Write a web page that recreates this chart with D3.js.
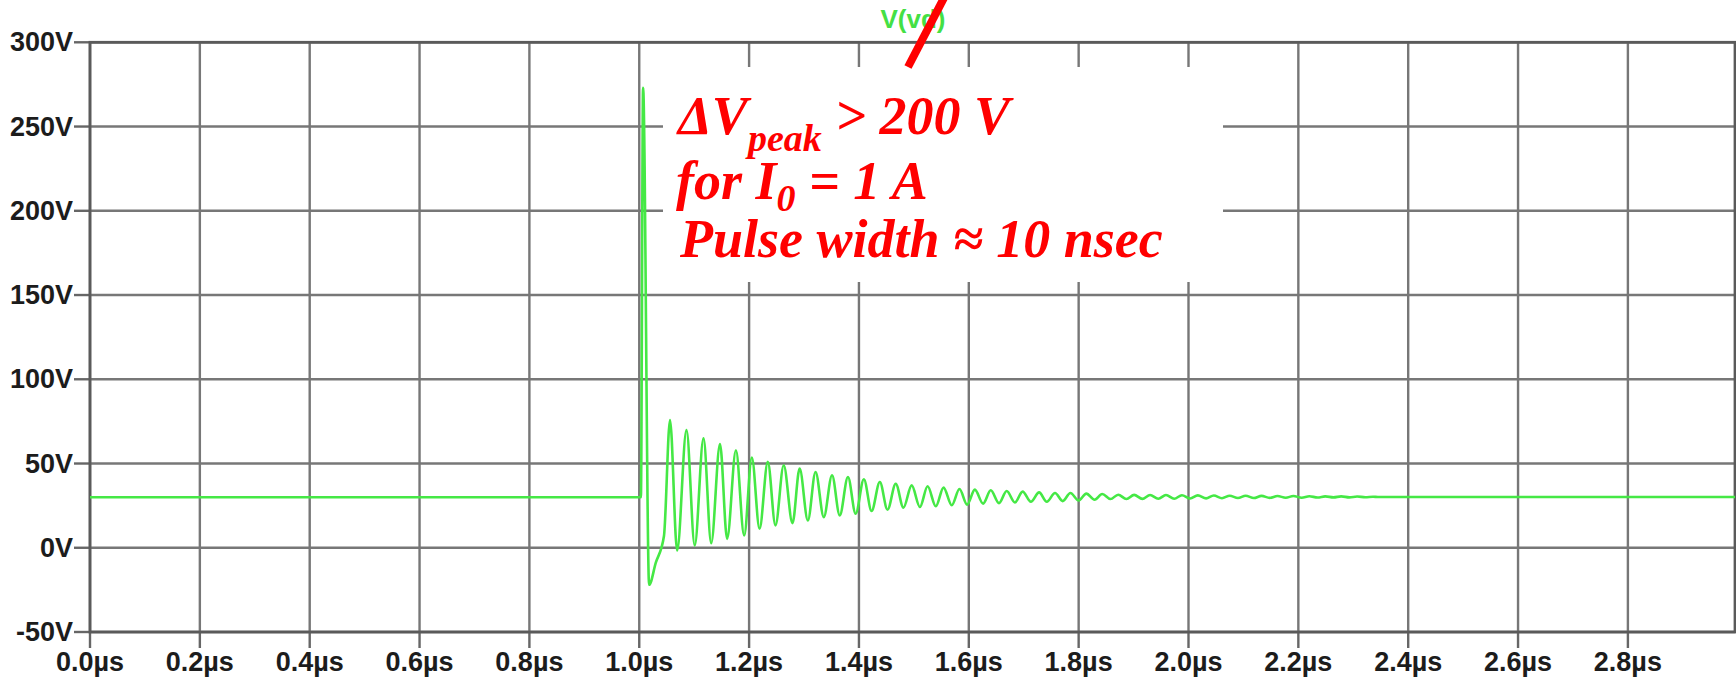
<!DOCTYPE html>
<html lang="en">
<head>
    <meta charset="UTF-8">
    <title>V(vd) transient</title>
    <style>
        body { margin: 0; background: #fff; }
        .tick-label { font: bold 27px "Liberation Sans", Arial, sans-serif; fill: #1c1c1c; }
        .note { font: bold italic 54px "Liberation Serif", "Times New Roman", serif; fill: #ff0000; }
    </style>
</head>
<body>
    <div id="chart"></div>
    <script src="https://d3js.org/d3.v7.min.js"></script>
    <script>
        // axis ticks
        const yTicks = [-50, 0, 50, 100, 150, 200, 250, 300];
        const yTickLabels = ["-50V", "0V", "50V", "100V", "150V", "200V", "250V", "300V"];
        const xTicks = [0, 0.2, 0.4, 0.6, 0.8, 1.0, 1.2, 1.4, 1.6, 1.8, 2.0, 2.2, 2.4, 2.6, 2.8];
        const xTickLabels = ["0.0µs", "0.2µs", "0.4µs", "0.6µs", "0.8µs", "1.0µs", "1.2µs", "1.4µs",
            "1.6µs", "1.8µs", "2.0µs", "2.2µs", "2.4µs", "2.6µs", "2.8µs"];
        const traceName = "V(vd)";

        // trace: time (µs) and voltage (V)
        // flat part, spike, undershoot and ramp
        const edgeT = [0, 1.003, 1.007, 1.018, 1.030, 1.045];
        const edgeV = [30, 30, 273, -22, -9, 7];
        // ringing: alternating peak / trough
        const ringT = [1.056, 1.069, 1.086, 1.101, 1.117, 1.131, 1.147, 1.160, 1.176, 1.191,
            1.205, 1.219, 1.234, 1.248, 1.263, 1.279, 1.292, 1.307, 1.321, 1.336,
            1.351, 1.365, 1.380, 1.394, 1.409, 1.423, 1.438, 1.452, 1.467, 1.481,
            1.496, 1.511, 1.525, 1.540, 1.554, 1.569, 1.583, 1.597, 1.611, 1.626,
            1.640, 1.655, 1.669, 1.684, 1.698, 1.713, 1.728, 1.742, 1.757, 1.771,
            1.785, 1.800, 1.814, 1.829, 1.843, 1.858, 1.872, 1.887, 1.901, 1.916,
            1.930, 1.945, 1.959, 1.974, 1.988, 2.003, 2.017, 2.032, 2.046, 2.061,
            2.075, 2.090, 2.104, 2.119, 2.133, 2.148, 2.162, 2.177, 2.191, 2.206,
            2.220, 2.235, 2.249, 2.264, 2.278, 2.293, 2.307, 2.322, 2.336];
        const ringV = [75.8, -1.6, 69.8, 1.4, 64.9, 2.7, 61.5, 5.3, 57.9, 7.3,
            53.6, 11.3, 51.0, 13.3, 49.0, 14.6, 47.0, 16.2, 45.0, 18.2,
            43.0, 19.2, 42.0, 20.2, 40.7, 21.8, 39.0, 22.6, 38.0, 23.8,
            37.0, 24.2, 36.5, 24.6, 35.7, 25.2, 34.9, 25.6, 34.5, 26.2,
            34.1, 26.5, 33.7, 26.9, 33.3, 27.3, 32.9, 27.3, 32.5, 27.7,
            32.5, 28.1, 32.1, 28.5, 31.9, 28.9, 31.5, 28.9, 31.4, 29.0,
            31.3, 29.1, 31.3, 29.1, 31.2, 29.2, 31.1, 29.3, 31.0, 29.4,
            30.9, 29.5, 30.9, 29.5, 30.8, 29.6, 30.7, 29.7, 30.7, 29.7,
            30.6, 29.8, 30.5, 29.9, 30.5, 29.9, 30.4, 30.0, 30.3];
        // settled tail
        const tailT = [2.345, 2.995];
        const tailV = [30.1, 30.1];

        const width = 1736, height = 680;
        const plotL = 90, plotR = 1735, plotT = 42.3, plotB = 632;

        const x = d3.scaleLinear().domain([0, 2.995]).range([plotL, plotR]);
        const y = d3.scaleLinear().domain([-50, 300]).range([plotB, plotT]);

        const svg = d3.select("#chart").append("svg")
            .attr("width", width)
            .attr("height", height);

        svg.append("rect").attr("width", width).attr("height", height).attr("fill", "#fff");

        // grid
        const grid = svg.append("g")
            .attr("stroke", "#777")
            .attr("stroke-width", 2.4);
        grid.selectAll(".hg")
            .data(yTicks)
            .join("line")
            .attr("class", "hg")
            .attr("x1", plotL).attr("x2", plotR)
            .attr("y1", d => y(d)).attr("y2", d => y(d));
        grid.selectAll(".vg")
            .data(xTicks)
            .join("line")
            .attr("class", "vg")
            .attr("x1", d => x(d)).attr("x2", d => x(d))
            .attr("y1", plotT).attr("y2", plotB);

        // tick marks outside the frame
        const ticks = svg.append("g")
            .attr("stroke", "#666")
            .attr("stroke-width", 2.4);
        ticks.selectAll(".yt")
            .data(yTicks)
            .join("line")
            .attr("class", "yt")
            .attr("x1", plotL - 16).attr("x2", plotL)
            .attr("y1", d => y(d)).attr("y2", d => y(d));
        ticks.selectAll(".xt")
            .data(xTicks)
            .join("line")
            .attr("class", "xt")
            .attr("x1", d => x(d)).attr("x2", d => x(d))
            .attr("y1", plotB).attr("y2", plotB + 16);

        svg.append("rect")
            .attr("x", plotL).attr("y", plotT)
            .attr("width", plotR - plotL).attr("height", plotB - plotT)
            .attr("fill", "none")
            .attr("stroke", "#5a5a5a")
            .attr("stroke-width", 2.8);

        svg.append("g")
            .selectAll("text")
            .data(yTicks)
            .join("text")
            .attr("class", "tick-label")
            .attr("x", plotL - 17)
            .attr("y", d => y(d) + 9)
            .attr("text-anchor", "end")
            .text((d, i) => yTickLabels[i]);

        svg.append("g")
            .selectAll("text")
            .data(xTicks)
            .join("text")
            .attr("class", "tick-label")
            .attr("x", d => x(d))
            .attr("y", 671)
            .attr("text-anchor", "middle")
            .text((d, i) => xTickLabels[i]);

        // trace
        const points = [];
        edgeT.forEach((t, i) => points.push([t, edgeV[i]]));
        ringT.forEach((t, i) => points.push([t, ringV[i]]));
        tailT.forEach((t, i) => points.push([t, tailV[i]]));

        const line = d3.line()
            .x(d => x(d[0]))
            .y(d => y(d[1]))
            .curve(d3.curveMonotoneX);

        svg.append("path")
            .datum(points)
            .attr("d", line)
            .attr("fill", "none")
            .attr("stroke", "#45e845")
            .attr("stroke-width", 2.6)
            .attr("stroke-linejoin", "round");

        svg.append("text")
            .attr("x", 913)
            .attr("y", 28)
            .attr("text-anchor", "middle")
            .style("font", "bold 26px 'Liberation Sans', Arial, sans-serif")
            .attr("fill", "#44e044")
            .text(traceName);

        // annotation
        svg.append("rect")
            .attr("x", 663).attr("y", 67)
            .attr("width", 560).attr("height", 215)
            .attr("fill", "#fff");

        svg.append("line")
            .attr("x1", 908).attr("y1", 67)
            .attr("x2", 946).attr("y2", -6)
            .attr("stroke", "#ff0000")
            .attr("stroke-width", 8);

        const note = svg.append("g").attr("class", "note");
        const l1 = note.append("text").attr("x", 678).attr("y", 134);
        l1.append("tspan").text("ΔV");
        l1.append("tspan").attr("dy", 17).style("font-size", "38px").text("peak");
        l1.append("tspan").attr("dy", -17).text(" > 200 V");

        const l2 = note.append("text").attr("x", 676).attr("y", 199);
        l2.append("tspan").text("for I");
        l2.append("tspan").attr("dy", 12).style("font-size", "38px").text("0");
        l2.append("tspan").attr("dy", -12).text(" = 1 A");

        note.append("text").attr("x", 680).attr("y", 257).text("Pulse width ≈ 10 nsec");
    </script>
</body>
</html>
